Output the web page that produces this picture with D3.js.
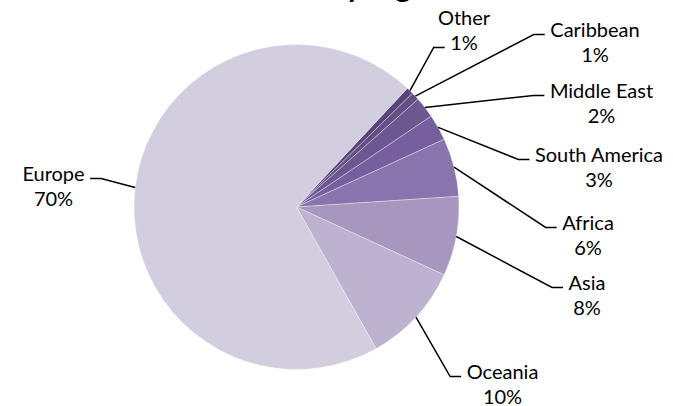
<!DOCTYPE html>
<html>
<head>
<meta charset="utf-8">
<script src="https://cdn.jsdelivr.net/npm/d3@7"></script>
<style>
  body { margin: 0; background: #fff; }
  svg { display: block; }
  text { font-family: Lato, "Open Sans", sans-serif; fill: #000; }
</style>
</head>
<body>
<div id="chart"></div>
<script>
// frame
const F_WIDTH = 673;
const F_HEIGHT = 406;
const CENTER = {x: 296.5, y: 207};
const RADIUS = 162.5;

// data, clockwise from the top right
const categories = ["Other", "Caribbean", "Middle East", "South America", "Africa", "Asia", "Oceania", "Europe"];
const shares = [0.7, 0.8, 2.1, 2.6, 5.8, 7.9, 10.0, 70.1];
const title = "Visitors by region";

// slice colours, same order as categories
const COLORS = ["#584679", "#634f85", "#6d5790", "#775e9e", "#8a74ad", "#a797bf", "#bdb3d1", "#d3cde0"];

// label placement: centre x, first baseline, which row the leader meets, side
const LABEL_POS = {
  "Other":         {x: 464,   y: 25,  row: 1, side: "right"},
  "Caribbean":     {x: 595,   y: 37,  row: 0, side: "right"},
  "Middle East":   {x: 601.5, y: 98,  row: 0, side: "right"},
  "South America": {x: 599,   y: 162, row: 0, side: "right"},
  "Africa":        {x: 588,   y: 230, row: 0, side: "right"},
  "Asia":          {x: 587,   y: 290, row: 0, side: "right"},
  "Oceania":       {x: 502.5, y: 379, row: 0, side: "right"},
  "Europe":        {x: 53.5,  y: 181, row: 0, side: "left"}
};
const LINE_H = 25;

const data = categories.map((c, i) => ({name: c, value: shares[i], color: COLORS[i]}));
const total = d3.sum(shares);

const FRAME = d3.select("#chart")
  .append("svg")
    .attr("width", F_WIDTH)
    .attr("height", F_HEIGHT);

FRAME.append("rect")
  .attr("width", F_WIDTH)
  .attr("height", F_HEIGHT)
  .attr("fill", "#fff");

// title, mostly cut off at the top edge
FRAME.append("text")
  .attr("x", F_WIDTH / 2)
  .attr("y", -3)
  .attr("text-anchor", "middle")
  .style("font-size", "30px")
  .style("font-weight", "bold")
  .text(title);

const start = 43.04 * Math.PI / 180;
const pie = d3.pie()
  .sort(null)
  .value(d => d.value)
  .startAngle(start)
  .endAngle(start + 2 * Math.PI);

const arc = d3.arc().innerRadius(0).outerRadius(RADIUS);
const rim = d3.arc().innerRadius(RADIUS).outerRadius(RADIUS);

const arcs = pie(data);

const G = FRAME.append("g")
  .attr("transform", "translate(" + CENTER.x + "," + CENTER.y + ")");

G.selectAll("path.slice")
  .data(arcs)
  .enter()
  .append("path")
    .attr("class", "slice")
    .attr("d", arc)
    .attr("fill", d => d.data.color)
    .attr("stroke", "rgba(255,255,255,0.55)")
    .attr("stroke-width", 0.6);

// labels + leader lines
arcs.forEach(d => {
  const pos = LABEL_POS[d.data.name];
  const pct = Math.round(d.data.value / total * 100) + "%";
  const rows = [d.data.name, pct];

  const txt = FRAME.append("text")
    .attr("text-anchor", "middle")
    .style("font-size", "20px");
  const spans = rows.map((r, i) => txt.append("tspan")
    .attr("x", pos.x)
    .attr("y", pos.y + i * LINE_H)
    .text(r));

  const w = spans[pos.row].node().getComputedTextLength();
  const ly = pos.y + pos.row * LINE_H - 2.5;
  const dir = pos.side === "right" ? -1 : 1;
  const endX = pos.x + dir * (w / 2 + 5.5);
  const elbowX = endX + dir * 11;
  const p0 = rim.centroid(d);

  FRAME.append("path")
    .attr("d", d3.line()([
      [CENTER.x + p0[0], CENTER.y + p0[1]],
      [elbowX, ly],
      [endX, ly]
    ]))
    .attr("fill", "none")
    .attr("stroke", "#000")
    .attr("stroke-width", 1.5);
});
</script>
</body>
</html>
